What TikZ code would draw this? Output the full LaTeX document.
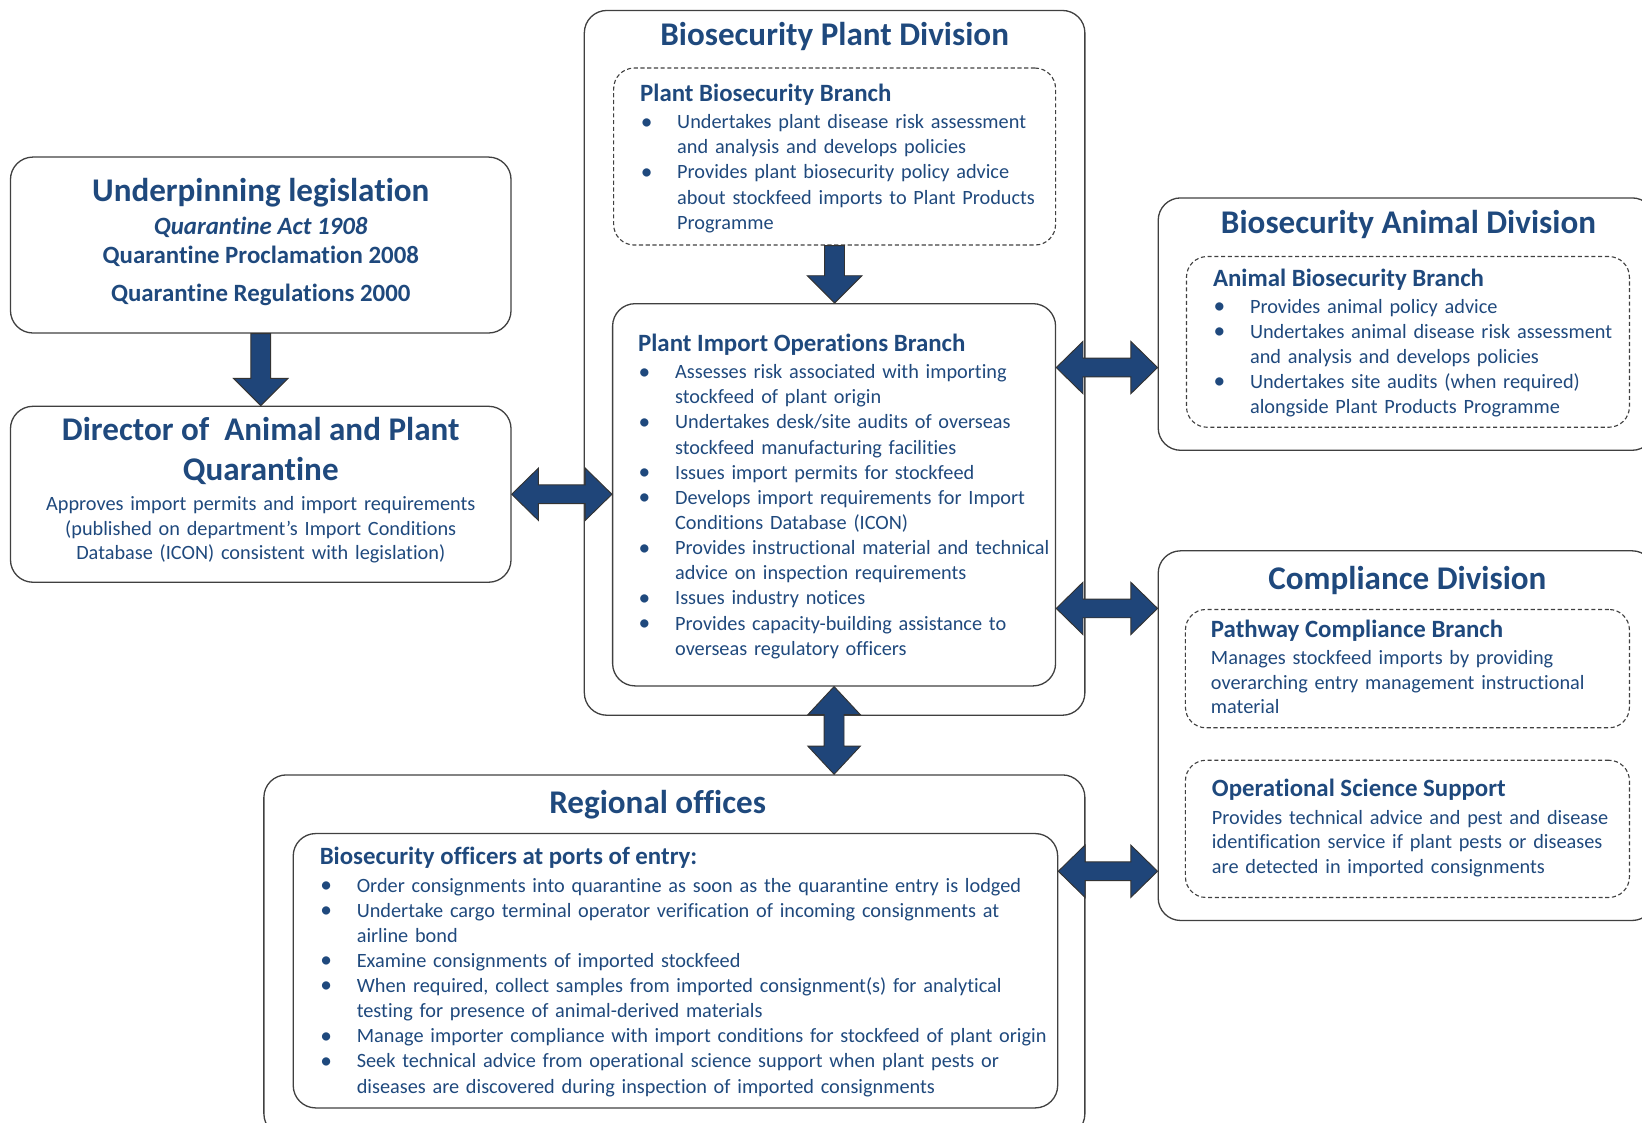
\documentclass[tikz,border=0pt]{standalone}
\usepackage{fontspec}
\setmainfont{Carlito}[Ligatures=NoCommon]
\usetikzlibrary{calc,fit}
\definecolor{tblue}{HTML}{1F497D}
\definecolor{ablue}{HTML}{1F4579}
\definecolor{lgray}{HTML}{404040}
\newcommand\bl[1]{\hangindent=19.8pt\hangafter=1\noindent\makebox[19.8pt][l]{\hspace{0.3pt}\raisebox{-0.2pt}{\fontsize{12.5}{12.5}\selectfont\textbullet}}#1\par}
\newcommand\blkdown[2]{\draw[blk] let \p1=(#1), \p2=(#2) in (\x1-5.3pt,\y1) -- (\x1+5.3pt,\y1) -- (\x1+5.3pt,\y2+14.6pt) -- (\x1+14.6pt,\y2+14.6pt) -- (\x1,\y2) -- (\x1-14.6pt,\y2+14.6pt) -- (\x1-5.3pt,\y2+14.6pt) -- cycle;}
\newcommand\blkh[2]{\draw[blk] let \p1=(#1), \p2=(#2) in (\x1,\y1) -- (\x1+14.3pt,\y1+14pt) -- (\x1+14.3pt,\y1+5pt) -- (\x2-14.3pt,\y1+5pt) -- (\x2-14.3pt,\y1+14pt) -- (\x2,\y1) -- (\x2-14.3pt,\y1-14pt) -- (\x2-14.3pt,\y1-5pt) -- (\x1+14.3pt,\y1-5pt) -- (\x1+14.3pt,\y1-14pt) -- cycle;}
\newcommand\blkv[2]{\draw[blk] let \p1=(#1), \p2=(#2) in (\x1,\y1) -- (\x1+14pt,\y1-15pt) -- (\x1+5.3pt,\y1-15pt) -- (\x1+5.3pt,\y2+15pt) -- (\x1+14pt,\y2+15pt) -- (\x1,\y2) -- (\x1-14pt,\y2+15pt) -- (\x1-5.3pt,\y2+15pt) -- (\x1-5.3pt,\y1-15pt) -- (\x1-14pt,\y1-15pt) -- cycle;}
\tikzset{
 box/.style={draw=lgray, line width=0.7pt, rounded corners=12pt, inner sep=0pt, fit={#1}},
 dbox/.style={draw=lgray, line width=0.6pt, dash pattern=on 2.2pt off 1.4pt, rounded corners=11pt, inner sep=0pt, fit={#1}},
 blk/.style={fill=ablue, draw=black!80, line width=0.5pt},
 ttl/.style={text=tblue, font=\fontsize{17.7}{21}\selectfont\bfseries, inner sep=0pt, anchor=base},
 sub/.style={text=tblue, font=\fontsize{13.3}{16}\selectfont\bfseries, inner sep=0pt, anchor=base},
 hd/.style={text=tblue, font=\fontsize{13.3}{16}\selectfont\bfseries, inner sep=0pt, anchor=base west},
 lst/.style={text=tblue, font=\fontsize{10.85}{13.44}\selectfont, inner sep=0pt, anchor=north west, text width=300pt, align=left},
 clst/.style={text=tblue, font=\fontsize{10.85}{13.1}\selectfont, inner sep=0pt, anchor=north, text width=300pt, align=center},
}
\begin{document}
\begin{tikzpicture}[x=0.56pt,y=-0.56pt]
\useasboundingbox (0,0) rectangle (1568,1072);
\clip (0,0) rectangle (1568,1072);
% boxes
\node[box={(10,150) (488,318)}] (leg) {};
\node[box={(10,388) (488,556)}] (dir) {};
\node[box={(558,10) (1036,683)}] (bpd) {};
\node[dbox={(586,65) (1008,234)}] (pbb) {};
\node[box={(585,290) (1008,655)}] (pio) {};
\node[box={(1106,189) (1580,430)}] (bad) {};
\node[dbox={(1133,245) (1556,408)}] (abb) {};
\node[box={(1106,526) (1580,879)}] (cd) {};
\node[dbox={(1132,582) (1556,695)}] (pcb) {};
\node[dbox={(1132,726) (1556,857)}] (oss) {};
\node[box={(252,740) (1036,1085)}] (reg) {};
\node[box={(280,796) (1010,1058)}] (bop) {};
% Underpinning legislation
\node[ttl] (legT) at (249,192.6) {Underpinning legislation};
\node[sub, font=\fontsize{13.3}{16}\selectfont\bfseries\itshape] (leg1) at (249,224.4) {Quarantine Act 1908};
\node[sub] (leg2) at (249,252.1) {Quarantine Proclamation 2008};
\node[sub] (leg3) at (249,288.1) {Quarantine Regulations 2000};
% Director
\node[ttl] (dirT1) at (249,420.2) {Director of\ \ Animal and Plant};
\node[ttl] (dirT2) at (249,458.4) {Quarantine};
\node[clst] (dirL) at (249,470.9) {\strut Approves import permits and import requirements\\(published on department’s Import Conditions\\Database (ICON) consistent with legislation)};
% Plant division
\node[ttl] (bpdT) at (797,43.6) {Biosecurity Plant Division};
\node[hd] (pbbT) at (611,97) {Plant Biosecurity Branch};
\node[lst] (pbbL) at (611,105.7) {\bl{\strut Undertakes plant disease risk assessment\newline and analysis and develops policies}\bl{Provides plant biosecurity policy advice\newline about stockfeed imports to Plant Products\newline Programme}};
\node[hd] (pioT) at (609,335.8) {Plant Import Operations Branch};
\node[lst] (pioL) at (609,344.5) {\bl{\strut Assesses risk associated with importing\newline stockfeed of plant origin}\bl{Undertakes desk/site audits of overseas\newline stockfeed manufacturing facilities}\bl{Issues import permits for stockfeed}\bl{Develops import requirements for Import\newline Conditions Database (ICON)}\bl{Provides instructional material and technical\newline advice on inspection requirements}\bl{Issues industry notices}\bl{Provides capacity-building assistance to\newline overseas regulatory officers}};
% Animal division
\node[ttl] (badT) at (1345,222.8) {Biosecurity Animal Division};
\node[hd] (abbT) at (1158,273.8) {Animal Biosecurity Branch};
\node[lst] (abbL) at (1158,281.8) {\bl{\strut Provides animal policy advice}\bl{Undertakes animal disease risk assessment\newline and analysis and develops policies}\bl{Undertakes site audits (when required)\newline alongside Plant Products Programme}};
% Compliance division
\node[ttl] (cdT) at (1344,563.4) {Compliance Division};
\node[hd] (pcbT) at (1156,608.6) {Pathway Compliance Branch};
\node[lst, font=\fontsize{10.85}{13.1}\selectfont] (pcbL) at (1156,618.2) {\strut Manages stockfeed imports by providing\\overarching entry management instructional\\material};
\node[hd] (ossT) at (1157,760.8) {Operational Science Support};
\node[lst, font=\fontsize{10.85}{13.1}\selectfont] (ossL) at (1157,770.2) {\strut Provides technical advice and pest and disease\\identification service if plant pests or diseases\\are detected in imported consignments};
% Regional offices
\node[ttl] (regT) at (628,776.7) {Regional offices};
\node[hd] (bopT) at (305,826) {Biosecurity officers at ports of entry:};
\node[lst, text width=500pt] (bopL) at (305,834.7) {\bl{\strut Order consignments into quarantine as soon as the quarantine entry is lodged}\bl{Undertake cargo terminal operator verification of incoming consignments at\newline airline bond}\bl{Examine consignments of imported stockfeed}\bl{When required, collect samples from imported consignment(s) for analytical\newline testing for presence of animal-derived materials}\bl{Manage importer compliance with import conditions for stockfeed of plant origin}\bl{Seek technical advice from operational science support when plant pests or\newline diseases are discovered during inspection of imported consignments}};
% connector coordinates
\coordinate (a1) at (pio.east |- 0,351);
\coordinate (a2) at (pio.east |- 0,581);
\coordinate (a3) at (bop.east |- 0,832);
% arrows
\blkdown{leg.south}{dir.north}
\blkdown{pbb.south}{pio.north}
\blkh{dir.east}{pio.west}
\blkh{a1}{a1 -| bad.west}
\blkh{a2}{a2 -| cd.west}
\blkh{a3}{a3 -| cd.west}
\blkv{pio.south}{reg.north}
\end{tikzpicture}
\end{document}
